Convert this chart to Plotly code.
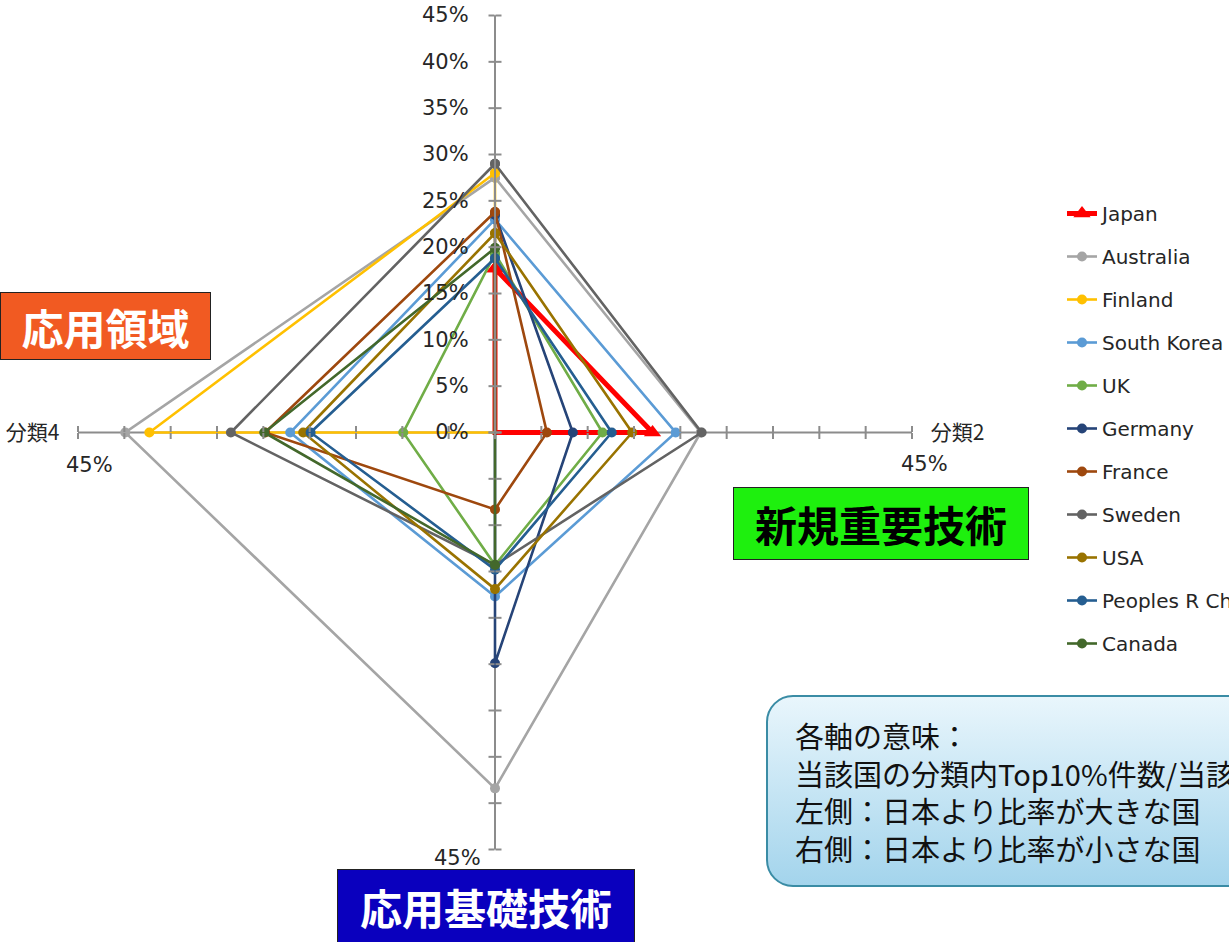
import base64
import plotly.graph_objects as go

# --- data -------------------------------------------------------------------
categories = ["分類1", "分類2", "分類3", "分類4"]
category_labels = ["", "分類2", "分類3", "分類4"]

countries = ["Japan", "Australia", "Finland", "South Korea", "UK", "Germany",
             "France", "Sweden", "USA", "Peoples R China", "Canada"]

japan = [0.177, 0.170, 0.000, 0.000]
australia = [0.275, 0.222, 0.384, 0.399]
finland = [0.280, 0.000, 0.000, 0.373]
south_korea = [0.230, 0.195, 0.177, 0.221]
uk = [0.193, 0.116, 0.143, 0.099]
germany = [0.235, 0.084, 0.249, 0.000]
france = [0.238, 0.056, 0.083, 0.248]
sweden = [0.290, 0.223, 0.143, 0.285]
usa = [0.215, 0.148, 0.169, 0.207]
china = [0.188, 0.126, 0.148, 0.199]
canada = [0.199, 0.000, 0.143, 0.249]

series = [japan, australia, finland, south_korea, uk, germany,
          france, sweden, usa, china, canada]

colors = ["#FF0000", "#A5A5A5", "#FFC000", "#5B9BD5", "#70AD47", "#264478",
          "#9E480E", "#636363", "#997300", "#255E91", "#43682B"]

r_max = 0.45
radial_ticks = [round(0.05 * i, 2) for i in range(10)]
radial_tick_text = [f"{round(v * 100)}%" for v in radial_ticks]

# --- geometry ---------------------------------------------------------------
W, H = 1229, 942
CX, CY, R = 495, 432.5, 417
dom_x = [(CX - R) / W, (CX + R) / W]
dom_y = [1 - (CY + R) / H, 1 - (CY - R) / H]

AXIS = "#8C8C8C"
TEXT = "#262626"
LATIN = "DejaVu Sans"
CJK = "Noto Sans CJK JP"


def px(x):
    return x / W


def py(y):
    return 1 - y / H


fig = go.Figure()

for name, vals, col in zip(countries, series, colors):
    is_japan = name == "Japan"
    fig.add_trace(go.Scatterpolar(
        r=vals + vals[:1],
        theta=categories + categories[:1],
        name=name,
        legendgroup=name,
        mode="lines+markers",
        line=dict(color=col, width=5 if is_japan else 2.6),
        marker=dict(color=col, size=15 if is_japan else 10,
                    symbol="triangle-up" if is_japan else "circle"),
        subplot="polar",
    ))

# extra transparent polar layers that only carry tick marks on each spoke
tick_layers = [(90, "clockwise"), (90, "counterclockwise"),
               (0, "clockwise"), (0, "counterclockwise"),
               (270, "clockwise"), (270, "counterclockwise"),
               (180, "clockwise"), (180, "counterclockwise")]

layout_polars = {}
for i, (ang, side) in enumerate(tick_layers, start=2):
    key = f"polar{i}"
    layout_polars[key] = dict(
        domain=dict(x=dom_x, y=dom_y),
        bgcolor="rgba(0,0,0,0)",
        radialaxis=dict(range=[0, r_max], angle=ang, side=side,
                        tickvals=radial_ticks, ticks="outside", ticklen=6,
                        tickwidth=1.5, tickcolor=AXIS, showticklabels=False,
                        showline=False, showgrid=False),
        angularaxis=dict(direction="clockwise", rotation=90, showgrid=False,
                         showline=False, ticks="", showticklabels=False),
    )
    fig.add_trace(go.Scatterpolar(r=[0], theta=[0], subplot=key, mode="markers",
                                  marker=dict(size=1, opacity=0),
                                  showlegend=False, hoverinfo="skip"))

fig.update_layout(
    width=W, height=H,
    margin=dict(l=0, r=0, t=0, b=0, autoexpand=False),
    paper_bgcolor="white",
    plot_bgcolor="white",
    showlegend=True,
    polar=dict(
        domain=dict(x=dom_x, y=dom_y),
        bgcolor="rgba(0,0,0,0)",
        gridshape="linear",
        # invisible long ticks keep the percentage labels clear of the spoke
        radialaxis=dict(range=[0, r_max], angle=90, side="counterclockwise",
                        tickvals=radial_ticks, ticktext=radial_tick_text,
                        ticks="outside", ticklen=18, tickwidth=1,
                        tickcolor="rgba(0,0,0,0)",
                        showline=True, linecolor=AXIS, linewidth=2,
                        showgrid=False, tickangle=90,
                        tickfont=dict(family=LATIN, size=21, color=TEXT)),
        angularaxis=dict(direction="clockwise", rotation=90,
                         showline=False, showgrid=True, gridcolor=AXIS,
                         gridwidth=2, ticks="outside", ticklen=14,
                         tickcolor="rgba(0,0,0,0)",
                         tickvals=categories, ticktext=category_labels,
                         tickfont=dict(family=CJK, size=21, color=TEXT)),
    ),
    **layout_polars,
    legend=dict(
        x=px(1062), y=py(194), xanchor="left", yanchor="top",
        font=dict(family=LATIN, size=20, color=TEXT),
        tracegroupgap=14, bgcolor="rgba(0,0,0,0)",
    ),
)

# "45%" labels at the ends of the other three spokes
end_label = f"{round(r_max * 100)}%"
for x, y in [(924, 464), (90, 465), (457, 858)]:
    fig.add_annotation(x=px(x), y=py(y), xref="paper", yref="paper",
                       xanchor="center", yanchor="middle",
                       text=end_label, showarrow=False,
                       font=dict(family=LATIN, size=21, color=TEXT))

# coloured category boxes
boxes = [
    ("応用領域", 0, 292, 211, 360, "#F15A22", "white"),
    ("新規重要技術", 733, 487, 1029, 560, "#1EF00E", "black"),
    ("応用基礎技術", 337, 869, 635, 944, "#0A00BE", "white"),
]
for text, x0, y0, x1, y1, fill, fc in boxes:
    fig.add_annotation(
        x=px((x0 + x1) / 2), y=py((y0 + y1) / 2), xref="paper", yref="paper",
        xanchor="center", yanchor="middle",
        text=f"<b>{text}</b>", showarrow=False,
        width=x1 - x0 - 2, height=y1 - y0 - 2, borderpad=0,
        bgcolor=fill, bordercolor="#222222", borderwidth=1,
        font=dict(family=CJK, size=42, color=fc),
    )

# rounded gradient note box
bx0, by0, bw, bh = 766, 695, W - 766, 192
svg = f"""<svg xmlns="http://www.w3.org/2000/svg" width="{bw}" height="{bh}" viewBox="0 0 {bw} {bh}">
<defs><linearGradient id="g" x1="0" y1="0" x2="0" y2="1">
<stop offset="0" stop-color="#E9F6FC"/><stop offset="1" stop-color="#A3D4EC"/>
</linearGradient></defs>
<rect x="1" y="1" width="{bw + 60}" height="{bh - 2}" rx="26" ry="26"
 fill="url(#g)" stroke="#3A8CA5" stroke-width="2"/></svg>"""
fig.add_layout_image(
    source="data:image/svg+xml;base64," + base64.b64encode(svg.encode()).decode(),
    xref="paper", yref="paper", x=px(bx0), y=py(by0),
    sizex=bw / W, sizey=bh / H, xanchor="left", yanchor="top",
    sizing="stretch", layer="above",
)

note_lines = [
    "各軸の意味：",
    "当該国の分類内Top10%件数/当該国の全Top10%件数",
    "左側：日本より比率が大きな国",
    "右側：日本より比率が小さな国",
]
fig.add_annotation(
    x=px(793), y=py(791), xref="paper", yref="paper",
    xanchor="left", yanchor="middle", align="left",
    text="<br>".join(note_lines), showarrow=False,
    font=dict(family=CJK, size=29, color="#111111"),
)

fig.write_html("out.html")
